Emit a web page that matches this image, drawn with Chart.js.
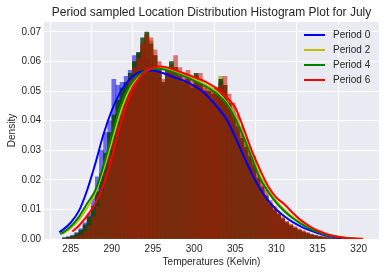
<!DOCTYPE html>
<html>
<head>
<meta charset="utf-8">
<script src="https://cdn.jsdelivr.net/npm/chart.js@4.4.0/dist/chart.umd.min.js"></script>
<style>
    html, body { margin: 0; padding: 0; background: #fff; }
    #wrap { width: 386px; height: 274px; }
</style>
</head>
<body>
<div id="wrap"><canvas id="myChart" width="386" height="274"></canvas></div>
<script>
// histogram bins (Kelvin, bin centres, 0.5 K wide)
var binCenters = [284.25, 284.75, 285.25, 285.75, 286.25, 286.75, 287.25, 287.75, 288.25, 288.75,
    289.25, 289.75, 290.25, 290.75, 291.25, 291.75, 292.25, 292.75, 293.25, 293.75,
    294.25, 294.75, 295.25, 295.75, 296.25, 296.75, 297.25, 297.75, 298.25, 298.75,
    299.25, 299.75, 300.25, 300.75, 301.25, 301.75, 302.25, 302.75, 303.25, 303.75,
    304.25, 304.75, 305.25, 305.75, 306.25, 306.75, 307.25, 307.75, 308.25, 308.75,
    309.25, 309.75, 310.25, 310.75, 311.25, 311.75, 312.25, 312.75, 313.25, 313.75,
    314.25, 314.75, 315.25, 315.75, 316.25, 316.75, 317.25, 317.75, 318.25, 318.75]

var histP0 = [0.0005, 0.0008, 0.0013, 0.0022, 0.0035, 0.0055, 0.0085, 0.014, 0.021, 0.030,
    0.036, 0.040, 0.054, 0.052, 0.053, 0.055, 0.057, 0.062, 0.063, 0.064,
    0.061, 0.059, 0.057, 0.056, 0.052, 0.054, 0.056, 0.055, 0.054, 0.053,
    0.055, 0.052, 0.055, 0.053, 0.050, 0.049, 0.047, 0.050, 0.053, 0.048,
    0.044, 0.040, 0.036, 0.033, 0.030, 0.027, 0.024, 0.020, 0.017, 0.014,
    0.0115, 0.0095, 0.008, 0.0065, 0.0053, 0.0043, 0.0035, 0.0028, 0.0022, 0.0017,
    0.0013, 0.001, 0.0008, 0.0006, 0.0004, 0.0003, 0.0002, 0.0001, 0.00005, 0]
var histP2 = [0.0002, 0.0004, 0.0008, 0.0015, 0.0025, 0.004, 0.0065, 0.0095, 0.014, 0.020,
    0.027, 0.034, 0.040, 0.046, 0.050, 0.052, 0.055, 0.059, 0.062, 0.066,
    0.069, 0.067, 0.062, 0.058, 0.053, 0.056, 0.059, 0.058, 0.056, 0.054,
    0.055, 0.052, 0.055, 0.054, 0.051, 0.050, 0.050, 0.051, 0.055, 0.052,
    0.047, 0.043, 0.039, 0.035, 0.032, 0.029, 0.026, 0.021, 0.018, 0.015,
    0.012, 0.010, 0.0085, 0.007, 0.0057, 0.0047, 0.0038, 0.0031, 0.0025, 0.002,
    0.0015, 0.0012, 0.0009, 0.0007, 0.0005, 0.0003, 0.0002, 0.0001, 0.0001, 0.00005]
var histP4 = [0.0003, 0.0006, 0.001, 0.0018, 0.003, 0.0048, 0.0075, 0.011, 0.016, 0.022,
    0.029, 0.036, 0.042, 0.047, 0.051, 0.053, 0.056, 0.060, 0.063, 0.068,
    0.070, 0.066, 0.062, 0.057, 0.053, 0.057, 0.060, 0.058, 0.055, 0.053,
    0.054, 0.051, 0.056, 0.053, 0.050, 0.050, 0.049, 0.051, 0.054, 0.052,
    0.046, 0.042, 0.038, 0.034, 0.031, 0.028, 0.025, 0.0205, 0.0175, 0.0145,
    0.0118, 0.0098, 0.0083, 0.0068, 0.0055, 0.0045, 0.0037, 0.003, 0.0024, 0.0019,
    0.0014, 0.0011, 0.0008, 0.0006, 0.0004, 0.0003, 0.0002, 0.0001, 0.00005, 0]
var histP6 = [0, 0.0001, 0.0003, 0.0006, 0.0012, 0.0025, 0.0045, 0.0075, 0.011, 0.016,
    0.022, 0.028, 0.033, 0.038, 0.044, 0.049, 0.054, 0.058, 0.061, 0.066,
    0.069, 0.068, 0.064, 0.060, 0.054, 0.057, 0.058, 0.062, 0.058, 0.055,
    0.057, 0.054, 0.054, 0.056, 0.052, 0.051, 0.050, 0.051, 0.052, 0.055,
    0.049, 0.046, 0.042, 0.038, 0.034, 0.031, 0.028, 0.023, 0.020, 0.0165,
    0.013, 0.011, 0.009, 0.0075, 0.006, 0.005, 0.0042, 0.0034, 0.0028, 0.0022,
    0.0017, 0.0013, 0.001, 0.0008, 0.0006, 0.0004, 0.0003, 0.0002, 0.0001, 0.00005]

// kde curves
var kdeX0 = [283.6, 284, 285, 286, 287, 288, 289, 290, 291, 292, 293, 294, 295, 296, 297, 298, 299, 300,
    301, 302, 303, 304, 305, 306, 307, 308, 309, 310, 311, 312, 313, 314, 315, 316, 317, 318, 319]
var kdeP0 = [0.0023, 0.0030, 0.0055, 0.0095, 0.0165, 0.0255, 0.0355, 0.0435, 0.0495, 0.0535, 0.0560, 0.0568,
    0.0570, 0.0563, 0.0553, 0.0543, 0.0532, 0.0518, 0.0500, 0.0472, 0.0440, 0.0402, 0.0345, 0.0282,
    0.0222, 0.0170, 0.0130, 0.0100, 0.0076, 0.0057, 0.0042, 0.0030, 0.0020, 0.0012, 0.0007, 0.0003, 0.0001]
var kdeX2 = [284, 285, 286, 287, 288, 289, 290, 291, 292, 293, 294, 295, 296, 297, 298, 299, 300,
    301, 302, 303, 304, 305, 306, 307, 308, 309, 310, 311, 312, 313, 314, 315, 316, 317, 318, 319, 320, 320.6]
var kdeP2 = [0.0017, 0.0036, 0.0065, 0.0105, 0.0155, 0.0235, 0.0330, 0.0425, 0.0498, 0.0543, 0.0566,
    0.0577, 0.0579, 0.0573, 0.0563, 0.0553, 0.0541, 0.0528, 0.0512, 0.0492, 0.0460, 0.0415, 0.0352,
    0.0285, 0.0215, 0.0167, 0.0128, 0.0098, 0.0074, 0.0054, 0.0038, 0.0026, 0.0016, 0.0010, 0.0006,
    0.0003, 0.0001, 0.00003]
var kdeX4 = [283.7, 284, 285, 286, 287, 288, 289, 290, 291, 292, 293, 294, 295, 296, 297, 298, 299, 300,
    301, 302, 303, 304, 305, 306, 307, 308, 309, 310, 311, 312, 313, 314, 315, 316, 317, 318, 319, 319.5]
var kdeP4 = [0.0017, 0.0021, 0.0042, 0.0075, 0.0120, 0.0165, 0.0250, 0.0350, 0.0445, 0.0510, 0.0548, 0.0568,
    0.0576, 0.0575, 0.0568, 0.0558, 0.0548, 0.0535, 0.0522, 0.0506, 0.0485, 0.0455, 0.0408, 0.0345,
    0.0275, 0.0205, 0.0160, 0.0122, 0.0093, 0.0070, 0.0051, 0.0036, 0.0024, 0.0015, 0.0009, 0.0005,
    0.0002, 0.0001]
var kdeX6 = [285.2, 286, 287, 288, 289, 290, 291, 292, 293, 294, 295, 296, 297, 298, 299, 300,
    301, 302, 303, 304, 305, 306, 307, 308, 309, 310, 311, 312, 313, 314, 315, 316, 317, 318, 319, 320, 320.5]
var kdeP6 = [0.0025, 0.0045, 0.0078, 0.0120, 0.0185, 0.0275, 0.0385, 0.0470, 0.0530, 0.0565, 0.0580, 0.0583,
    0.0578, 0.0568, 0.0558, 0.0548, 0.0537, 0.0522, 0.0505, 0.0478, 0.0445, 0.0375, 0.0300, 0.0235,
    0.0178, 0.0140, 0.0117, 0.0088, 0.0063, 0.0044, 0.0029, 0.0018, 0.0010, 0.0005, 0.0002, 0.0001, 0.00003]

var labels = ['Period 0', 'Period 2', 'Period 4', 'Period 6']
var xTicks = [285, 290, 295, 300, 305, 310, 315, 320]
var yTicks = [0, 0.01, 0.02, 0.03, 0.04, 0.05, 0.06, 0.07]

var lineColors = ['#0000ff', '#bfbf00', '#008000', '#ff0000']
var barColors = ['rgba(0,0,230,0.55)', 'rgba(140,140,0,0.6)', 'rgba(0,60,0,0.8)', 'rgba(200,20,10,0.55)']
var textColor = '#262626'
var fontFamily = '"Liberation Sans", Arial, sans-serif'

function points(xs, ys) {
    return xs.map(function (x, i) { return { x: x, y: ys[i] } })
}

var hists = [histP0, histP2, histP4, histP6]
var kdeXs = [kdeX0, kdeX2, kdeX4, kdeX6]
var kdes = [kdeP0, kdeP2, kdeP4, kdeP6]

var datasets = []
hists.forEach(function (h, i) {
    datasets.push({
        type: 'bar',
        data: points(binCenters, h),
        backgroundColor: barColors[i],
        borderWidth: 0,
        grouped: false,
        barPercentage: 1,
        categoryPercentage: 1,
        order: 8 - i
    })
})
kdes.forEach(function (k, i) {
    datasets.push({
        type: 'line',
        label: labels[i],
        data: points(kdeXs[i], k),
        borderColor: lineColors[i],
        borderWidth: 2,
        pointRadius: 0,
        fill: false,
        cubicInterpolationMode: 'monotone',
        order: 4 - i
    })
})

// background, title, axis titles and legend
var decor = {
    id: 'decor',
    beforeDraw: function (chart) {
        var a = chart.chartArea, ctx = chart.ctx
        ctx.save()
        ctx.fillStyle = '#eaeaf2'
        ctx.fillRect(a.left, a.top, a.right - a.left, a.bottom - a.top)
        ctx.restore()
    },
    afterDraw: function (chart) {
        var a = chart.chartArea, ctx = chart.ctx
        ctx.save()
        ctx.fillStyle = textColor
        ctx.textAlign = 'center'
        ctx.textBaseline = 'middle'
        ctx.font = '12px ' + fontFamily
        ctx.fillText('Period sampled Location Distribution Histogram Plot for July', (a.left + a.right) / 2, 13)
        ctx.font = '10px ' + fontFamily
        ctx.fillText('Temperatures (Kelvin)', (a.left + a.right) / 2, 262)
        ctx.save()
        ctx.translate(12, (a.top + a.bottom) / 2)
        ctx.rotate(-Math.PI / 2)
        ctx.fillText('Density', 0, 0)
        ctx.restore()

        ctx.textAlign = 'left'
        labels.forEach(function (lab, i) {
            var y = 35 + i * 15
            ctx.strokeStyle = lineColors[i]
            ctx.lineWidth = 2
            ctx.beginPath()
            ctx.moveTo(304, y)
            ctx.lineTo(325, y)
            ctx.stroke()
            ctx.fillText(lab, 333, y + 0.5)
        })
        ctx.restore()
    }
}

Chart.defaults.font.family = fontFamily
Chart.defaults.color = textColor

var myChart = new Chart(document.getElementById('myChart'), {
    type: 'bar',
    data: { datasets: datasets },
    options: {
        responsive: false,
        animation: false,
        devicePixelRatio: 1,
        layout: { padding: { top: 22, right: 7, left: 0, bottom: 0 } },
        plugins: { legend: { display: false }, tooltip: { enabled: false } },
        scales: {
            x: {
                type: 'linear',
                min: 281.76,
                max: 322.47,
                offset: false,
                grid: { color: '#ffffff', lineWidth: 1, drawTicks: false },
                border: { display: false },
                ticks: { font: { size: 10 }, color: textColor, padding: 4 },
                afterBuildTicks: function (s) { s.ticks = xTicks.map(function (v) { return { value: v } }) },
                afterFit: function (s) { s.height = 35 }
            },
            y: {
                type: 'linear',
                min: 0,
                max: 0.07338,
                grid: { color: '#ffffff', lineWidth: 1, drawTicks: false },
                border: { display: false },
                ticks: {
                    font: { size: 10 }, color: textColor, padding: 3,
                    callback: function (v) { return v.toFixed(2) }
                },
                afterBuildTicks: function (s) { s.ticks = yTicks.map(function (v) { return { value: v } }) },
                afterFit: function (s) { s.width = 44 }
            }
        }
    },
    plugins: [decor]
})
</script>
</body>
</html>
